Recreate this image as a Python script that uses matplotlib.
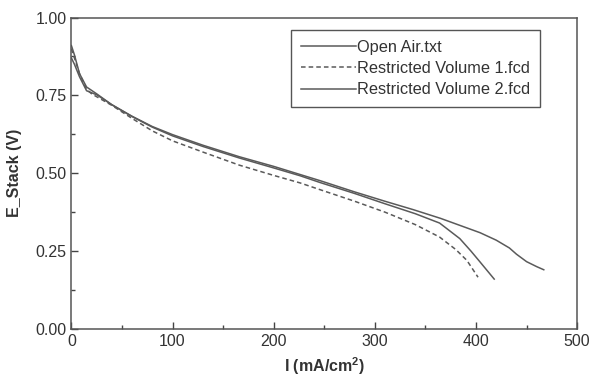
import numpy as np
import matplotlib.pyplot as plt
from matplotlib.ticker import MultipleLocator

plt.rcParams['font.family'] = ['Liberation Sans', 'DejaVu Sans']

# Open Air.txt
i_open = [0, 3, 8, 15, 25, 40, 60, 80, 100, 130, 166, 200, 226, 246, 280, 310,
          338, 365, 404, 420, 433, 440, 450, 460, 467]
e_open = [0.91, 0.88, 0.82, 0.777, 0.755, 0.72, 0.683, 0.65, 0.624, 0.59, 0.553,
          0.522, 0.496, 0.476, 0.44, 0.41, 0.383, 0.355, 0.309, 0.285, 0.26, 0.24,
          0.216, 0.2, 0.19]

# Restricted Volume 1.fcd
i_rv1 = [0, 3, 8, 15, 20, 40, 60, 80, 100, 130, 166, 200, 226, 246, 280, 310,
         340, 364, 380, 391, 402]
e_rv1 = [0.90, 0.87, 0.82, 0.77, 0.755, 0.718, 0.676, 0.636, 0.604, 0.568, 0.526,
         0.493, 0.469, 0.447, 0.41, 0.375, 0.335, 0.295, 0.255, 0.22, 0.166]

# Restricted Volume 2.fcd
i_rv2 = [0, 3, 8, 15, 25, 40, 60, 80, 100, 130, 166, 200, 226, 246, 280, 310,
         340, 364, 384, 395, 404, 418]
e_rv2 = [0.87, 0.85, 0.81, 0.765, 0.752, 0.72, 0.682, 0.648, 0.62, 0.586, 0.549,
         0.517, 0.492, 0.47, 0.435, 0.402, 0.37, 0.34, 0.29, 0.25, 0.215, 0.16]

fig = plt.figure(figsize=(5.95, 3.82), dpi=100)
ax = fig.add_axes([0.12, 0.139, 0.85, 0.815])

col = '#5a5a5a'
ax.plot(i_open, e_open, color=col, lw=1.1, label='Open Air.txt')
ax.plot(i_rv1, e_rv1, color=col, lw=1.1, ls=(0, (3, 2)), label='Restricted Volume 1.fcd')
ax.plot(i_rv2, e_rv2, color=col, lw=1.1, label='Restricted Volume 2.fcd')

ax.set_xlim(0, 500)
ax.set_ylim(0, 1.0)
ax.xaxis.set_major_locator(MultipleLocator(100))
ax.xaxis.set_minor_locator(MultipleLocator(50))
ax.yaxis.set_major_locator(MultipleLocator(0.25))
ax.yaxis.set_minor_locator(MultipleLocator(0.125))
ax.yaxis.set_major_formatter(plt.FormatStrFormatter('%.2f'))
ax.tick_params(which='both', direction='in', colors='#444444', labelcolor='#333333',
               labelsize=11.5, top=False, right=False)
ax.tick_params(which='major', length=5, width=1)
ax.tick_params(which='minor', length=3, width=1)
for s in ax.spines.values():
    s.set_color('#555555')
    s.set_linewidth(1.1)

ax.set_xlabel('I (mA/cm$^{\\mathregular{2}}$)', fontsize=11.5, fontweight='bold',
              color='#333333', labelpad=5)
ax.set_ylabel('E_Stack (V)', fontsize=11.5, fontweight='bold', color='#333333',
              labelpad=10)

leg = ax.legend(loc='upper right', bbox_to_anchor=(540 / 595, 1 - 30 / 382),
                bbox_transform=fig.transFigure, borderaxespad=0, fancybox=False,
                fontsize=11.8, handlelength=3.35, handletextpad=0.05,
                labelspacing=0.38, borderpad=0.6, framealpha=1)
leg.get_frame().set_edgecolor('#555555')
leg.get_frame().set_linewidth(1.0)
for t in leg.get_texts():
    t.set_color('#333333')

fig.savefig('out.png', dpi=100)
